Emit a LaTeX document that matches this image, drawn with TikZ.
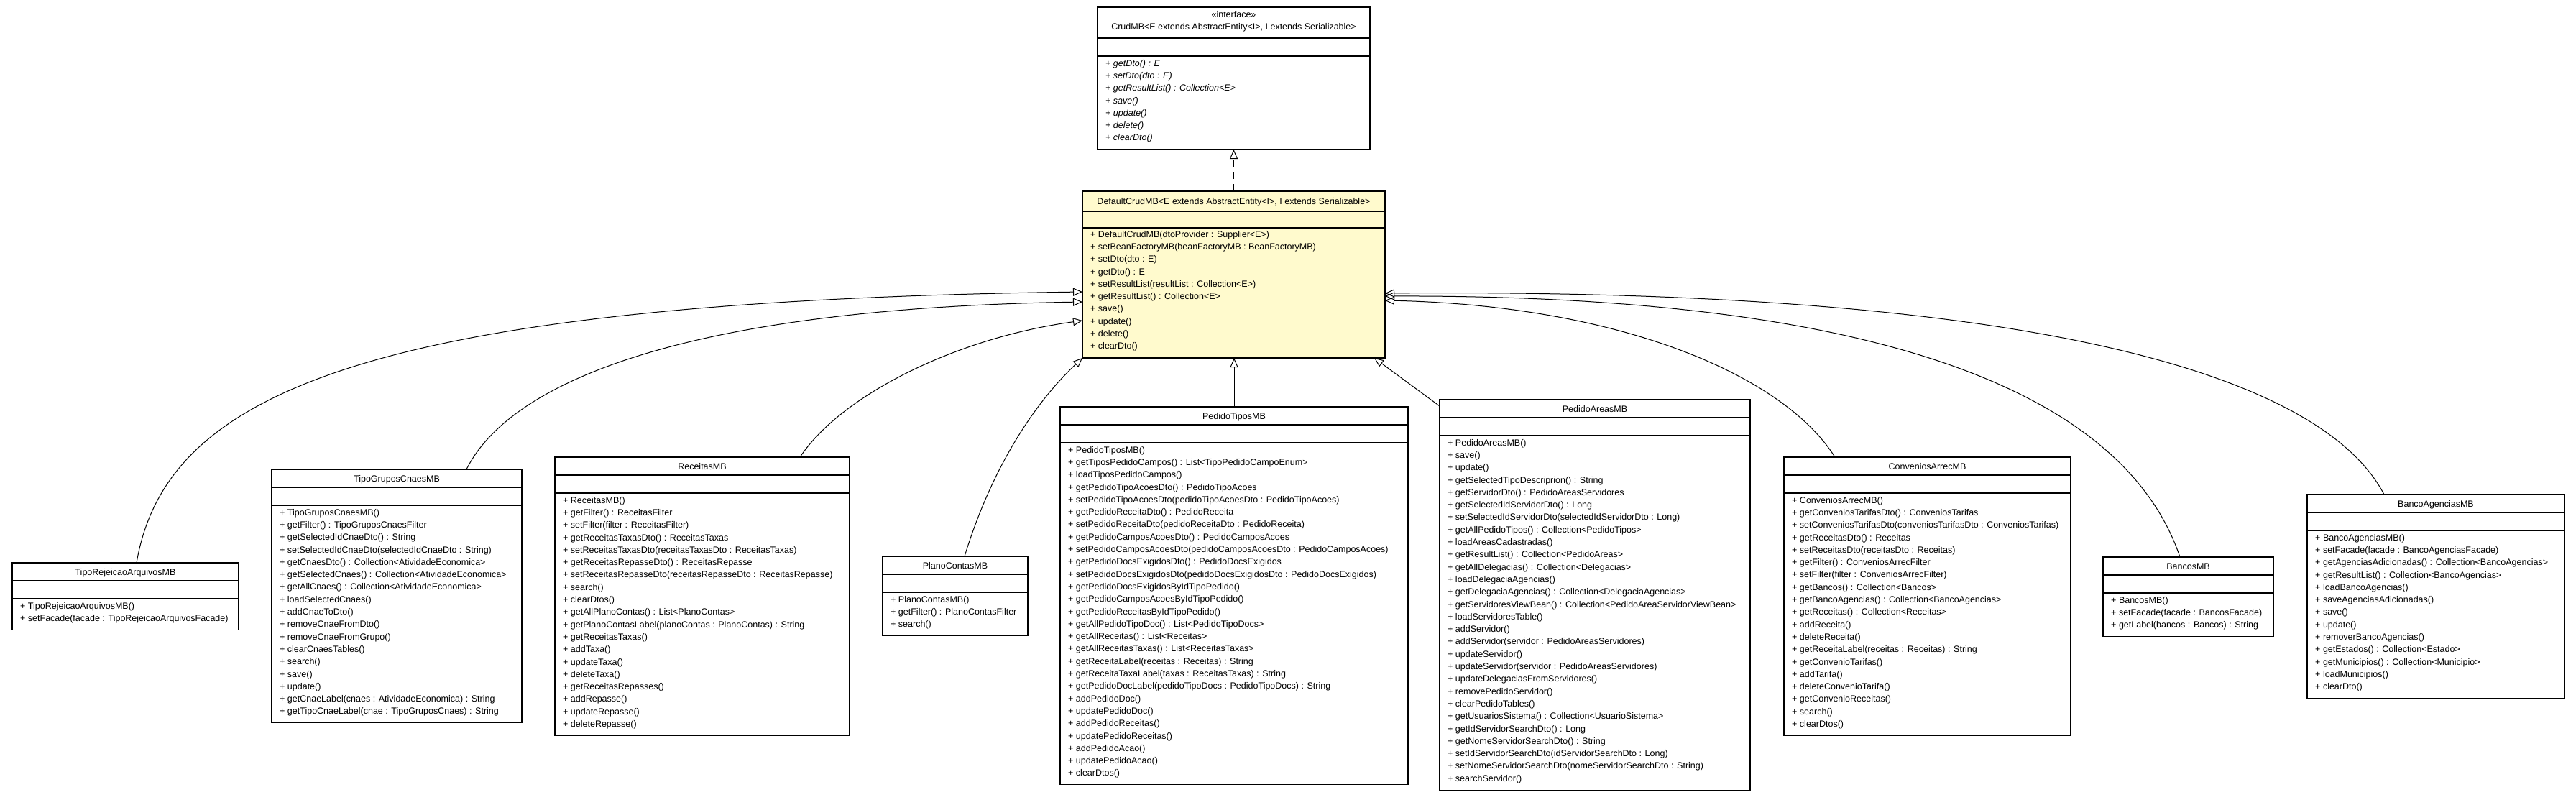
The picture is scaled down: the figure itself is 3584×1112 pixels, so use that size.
\documentclass[tikz,border=0pt]{standalone}
\usepackage{fontspec}
\setmainfont{Liberation Sans}
\usetikzlibrary{arrows.meta}
\definecolor{lemon}{RGB}{255,250,205}
\tikzset{
  cls/.style={draw=black, line width=1.1pt, fill=white, anchor=north west, inner sep=0pt, outer sep=0pt},
  sepline/.style={line width=1.5pt},
  ttl/.style={anchor=base, inner sep=0pt, font=\fontsize{12.5}{17.3}\selectfont},
  mth/.style={anchor=north west, inner sep=0pt, align=left, font=\fontsize{12.5}{17.3}\selectfont, execute at begin node=\strut},
  inh/.style={line width=1pt, -{Triangle[open, length=13pt, width=11pt]}},
}
\newcommand\umlcls[7]{%
  \node[cls, minimum width=#4pt, minimum height=#5pt] (#1) at (#2,#3) {};
  \draw[sepline] ([yshift=-25pt]#1.north west) -- ([yshift=-25pt]#1.north east);
  \draw[sepline] ([yshift=-50pt]#1.north west) -- ([yshift=-50pt]#1.north east);
  \node[ttl] (#1t) at ([yshift=-17.5pt]#1.north) {#6};
  \node[mth] (#1m) at ([xshift=11pt,yshift=-54.9pt]#1.north west) {#7};
}
\begin{document}
\begin{tikzpicture}[x=1pt,y=-1pt]
\fill[white] (0,0) rectangle (3584,1112);
\useasboundingbox (0,0) rectangle (3584,1112);

% CrudMB interface
\node[cls, minimum width=379pt, minimum height=198pt] (c1) at (1527,10) {};
\draw[sepline] ([yshift=-43pt]c1.north west) -- ([yshift=-43pt]c1.north east);
\draw[sepline] ([yshift=-68pt]c1.north west) -- ([yshift=-68pt]c1.north east);
\node[ttl] (c1s) at ([yshift=-14.5pt]c1.north) {«interface»};
\node[ttl] (c1t) at ([yshift=-31.5pt]c1.north) {CrudMB<E extends AbstractEntity<I>, I extends Serializable>};
\node[mth, font=\fontsize{12.5}{17.3}\selectfont\itshape] (c1m) at ([xshift=11pt,yshift=-72.9pt]c1.north west) {+ getDto() : E\\+ setDto(dto : E)\\+ getResultList() : Collection<E>\\+ save()\\+ update()\\+ delete()\\+ clearDto()};

% DefaultCrudMB
\node[cls, fill=lemon, minimum width=421pt, minimum height=232pt] (c2) at (1506,266) {};
\draw[sepline] ([yshift=-28pt]c2.north west) -- ([yshift=-28pt]c2.north east);
\draw[sepline] ([yshift=-51pt]c2.north west) -- ([yshift=-51pt]c2.north east);
\node[ttl] (c2t) at ([yshift=-18.5pt]c2.north) {DefaultCrudMB<E extends AbstractEntity<I>, I extends Serializable>};
\node[mth] (c2m) at ([xshift=11pt,yshift=-54.9pt]c2.north west) {+ DefaultCrudMB(dtoProvider : Supplier<E>)\\+ setBeanFactoryMB(beanFactoryMB : BeanFactoryMB)\\+ setDto(dto : E)\\+ getDto() : E\\+ setResultList(resultList : Collection<E>)\\+ getResultList() : Collection<E>\\+ save()\\+ update()\\+ delete()\\+ clearDto()};

\umlcls{c3}{17}{783}{315}{93.3}{TipoRejeicaoArquivosMB}{+ TipoRejeicaoArquivosMB()\\+ setFacade(facade : TipoRejeicaoArquivosFacade)}

\umlcls{c4}{378}{653}{348}{352.8}{TipoGruposCnaesMB}{+ TipoGruposCnaesMB()\\+ getFilter() : TipoGruposCnaesFilter\\+ getSelectedIdCnaeDto() : String\\+ setSelectedIdCnaeDto(selectedIdCnaeDto : String)\\+ getCnaesDto() : Collection<AtividadeEconomica>\\+ getSelectedCnaes() : Collection<AtividadeEconomica>\\+ getAllCnaes() : Collection<AtividadeEconomica>\\+ loadSelectedCnaes()\\+ addCnaeToDto()\\+ removeCnaeFromDto()\\+ removeCnaeFromGrupo()\\+ clearCnaesTables()\\+ search()\\+ save()\\+ update()\\+ getCnaeLabel(cnaes : AtividadeEconomica) : String\\+ getTipoCnaeLabel(cnae : TipoGruposCnaes) : String}

\umlcls{c5}{772}{636}{410}{387.4}{ReceitasMB}{+ ReceitasMB()\\+ getFilter() : ReceitasFilter\\+ setFilter(filter : ReceitasFilter)\\+ getReceitasTaxasDto() : ReceitasTaxas\\+ setReceitasTaxasDto(receitasTaxasDto : ReceitasTaxas)\\+ getReceitasRepasseDto() : ReceitasRepasse\\+ setReceitasRepasseDto(receitasRepasseDto : ReceitasRepasse)\\+ search()\\+ clearDtos()\\+ getAllPlanoContas() : List<PlanoContas>\\+ getPlanoContasLabel(planoContas : PlanoContas) : String\\+ getReceitasTaxas()\\+ addTaxa()\\+ updateTaxa()\\+ deleteTaxa()\\+ getReceitasRepasses()\\+ addRepasse()\\+ updateRepasse()\\+ deleteRepasse()}

\umlcls{c6}{1228}{774}{202}{110.6}{PlanoContasMB}{+ PlanoContasMB()\\+ getFilter() : PlanoContasFilter\\+ search()}

\umlcls{c7}{1475}{566}{484}{525.8}{PedidoTiposMB}{+ PedidoTiposMB()\\+ getTiposPedidoCampos() : List<TipoPedidoCampoEnum>\\+ loadTiposPedidoCampos()\\+ getPedidoTipoAcoesDto() : PedidoTipoAcoes\\+ setPedidoTipoAcoesDto(pedidoTipoAcoesDto : PedidoTipoAcoes)\\+ getPedidoReceitaDto() : PedidoReceita\\+ setPedidoReceitaDto(pedidoReceitaDto : PedidoReceita)\\+ getPedidoCamposAcoesDto() : PedidoCamposAcoes\\+ setPedidoCamposAcoesDto(pedidoCamposAcoesDto : PedidoCamposAcoes)\\+ getPedidoDocsExigidosDto() : PedidoDocsExigidos\\+ setPedidoDocsExigidosDto(pedidoDocsExigidosDto : PedidoDocsExigidos)\\+ getPedidoDocsExigidosByIdTipoPedido()\\+ getPedidoCamposAcoesByIdTipoPedido()\\+ getPedidoReceitasByIdTipoPedido()\\+ getAllPedidoTipoDoc() : List<PedidoTipoDocs>\\+ getAllReceitas() : List<Receitas>\\+ getAllReceitasTaxas() : List<ReceitasTaxas>\\+ getReceitaLabel(receitas : Receitas) : String\\+ getReceitaTaxaLabel(taxas : ReceitasTaxas) : String\\+ getPedidoDocLabel(pedidoTipoDocs : PedidoTipoDocs) : String\\+ addPedidoDoc()\\+ updatePedidoDoc()\\+ addPedidoReceitas()\\+ updatePedidoReceitas()\\+ addPedidoAcao()\\+ updatePedidoAcao()\\+ clearDtos()}

\umlcls{c8}{2003}{556}{432}{543.1}{PedidoAreasMB}{+ PedidoAreasMB()\\+ save()\\+ update()\\+ getSelectedTipoDescriprion() : String\\+ getServidorDto() : PedidoAreasServidores\\+ getSelectedIdServidorDto() : Long\\+ setSelectedIdServidorDto(selectedIdServidorDto : Long)\\+ getAllPedidoTipos() : Collection<PedidoTipos>\\+ loadAreasCadastradas()\\+ getResultList() : Collection<PedidoAreas>\\+ getAllDelegacias() : Collection<Delegacias>\\+ loadDelegaciaAgencias()\\+ getDelegaciaAgencias() : Collection<DelegaciaAgencias>\\+ getServidoresViewBean() : Collection<PedidoAreaServidorViewBean>\\+ loadServidoresTable()\\+ addServidor()\\+ addServidor(servidor : PedidoAreasServidores)\\+ updateServidor()\\+ updateServidor(servidor : PedidoAreasServidores)\\+ updateDelegaciasFromServidores()\\+ removePedidoServidor()\\+ clearPedidoTables()\\+ getUsuariosSistema() : Collection<UsuarioSistema>\\+ getIdServidorSearchDto() : Long\\+ getNomeServidorSearchDto() : String\\+ setIdServidorSearchDto(idServidorSearchDto : Long)\\+ setNomeServidorSearchDto(nomeServidorSearchDto : String)\\+ searchServidor()}

\umlcls{c9}{2482}{636}{399}{387.4}{ConveniosArrecMB}{+ ConveniosArrecMB()\\+ getConveniosTarifasDto() : ConveniosTarifas\\+ setConveniosTarifasDto(conveniosTarifasDto : ConveniosTarifas)\\+ getReceitasDto() : Receitas\\+ setReceitasDto(receitasDto : Receitas)\\+ getFilter() : ConveniosArrecFilter\\+ setFilter(filter : ConveniosArrecFilter)\\+ getBancos() : Collection<Bancos>\\+ getBancoAgencias() : Collection<BancoAgencias>\\+ getReceitas() : Collection<Receitas>\\+ addReceita()\\+ deleteReceita()\\+ getReceitaLabel(receitas : Receitas) : String\\+ getConvenioTarifas()\\+ addTarifa()\\+ deleteConvenioTarifa()\\+ getConvenioReceitas()\\+ search()\\+ clearDtos()}

\umlcls{c10}{2926}{775}{237}{110.6}{BancosMB}{+ BancosMB()\\+ setFacade(facade : BancosFacade)\\+ getLabel(bancos : Bancos) : String}

\umlcls{c11}{3210}{688}{358}{283.6}{BancoAgenciasMB}{+ BancoAgenciasMB()\\+ setFacade(facade : BancoAgenciasFacade)\\+ getAgenciasAdicionadas() : Collection<BancoAgencias>\\+ getResultList() : Collection<BancoAgencias>\\+ loadBancoAgencias()\\+ saveAgenciasAdicionadas()\\+ save()\\+ update()\\+ removerBancoAgencias()\\+ getEstados() : Collection<Estado>\\+ getMunicipios() : Collection<Municipio>\\+ loadMunicipios()\\+ clearDto()}

% connectors
\draw[inh, dash pattern=on 10pt off 7pt] (c2.north) -- (c2.north |- c1.south);
\draw[inh] ([xshift=173pt]c3.north west) .. controls (230,550) and (500,420) .. ([yshift=-140pt]c2.north west);
\draw[inh] ([xshift=271pt]c4.north west) .. controls (700,550) and (900,430) .. ([yshift=-154pt]c2.north west);
\draw[inh] ([xshift=341pt]c5.north west) .. controls (1170,550) and (1330,470) .. ([yshift=-180pt]c2.north west);
\draw[inh] ([xshift=114pt]c6.north west) .. controls (1380,650) and (1440,560) .. (c2.south west);
\draw[inh] (c7.north) -- (c7.north |- c2.south);
\draw[inh] ([yshift=-9pt]c8.north west) -- ([xshift=-15pt]c2.south east);
\draw[inh] ([xshift=71pt]c9.north west) .. controls (2480,520) and (2250,425) .. ([yshift=-152pt]c2.north east);
\draw[inh] ([xshift=107pt]c10.north west) .. controls (2960,560) and (2650,410) .. ([yshift=-146pt]c2.north east);
\draw[inh] ([xshift=107pt]c11.north west) .. controls (3240,540) and (2900,400) .. ([yshift=-142pt]c2.north east);
\end{tikzpicture}
\end{document}
